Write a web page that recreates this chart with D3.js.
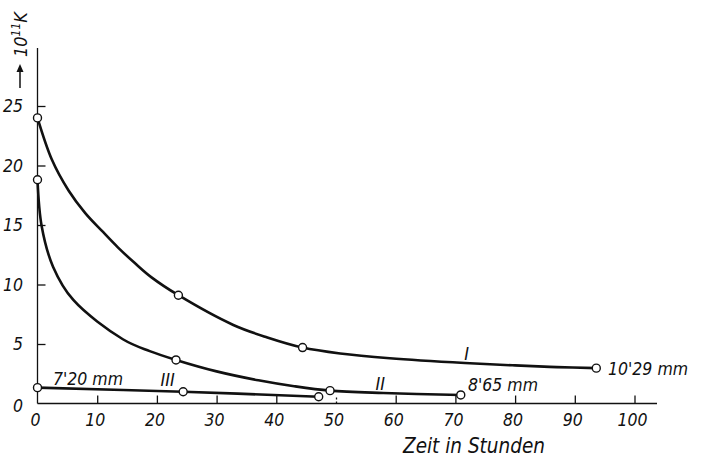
<!DOCTYPE html>
<html>
<head>
<meta charset="utf-8">
<script src="https://cdn.jsdelivr.net/npm/d3@7"></script>
<style>
  html, body { margin: 0; padding: 0; background: #fff; }
  svg text { font-family: "Liberation Sans Narrow", "DejaVu Sans Condensed", "Liberation Sans", sans-serif; font-style: italic; fill: #111; }
</style>
</head>
<body>
<div class="chart"></div>
<script>
'use strict';

const WIDTH = 702;
const HEIGHT = 461;

// x ticks (Zeit in Stunden), y ticks (10^11 K)
const xTicks = [10, 20, 30, 40, 50, 60, 70, 80, 90, 100];
const yTicks = [5, 10, 15, 20, 25];

// measured points (circles)
const pointsI = [[0, 24.0], [23.6, 9.1], [44.4, 4.7], [93.6, 2.97]];
const pointsII = [[0, 18.8], [23.2, 3.66], [49.0, 1.08], [70.9, 0.72]];
const pointsIII = [[0, 1.33], [24.4, 0.99], [47.1, 0.57]];

// drawn curves
const traceI = [[0, 24.0], [2.4, 20.5], [5.2, 17.9], [8.0, 16.0], [10.8, 14.5], [13.5, 13.1],
  [16.3, 11.8], [19.1, 10.6], [23.6, 9.1], [32.8, 6.6], [38.5, 5.55], [44.4, 4.7],
  [50.7, 4.2], [59, 3.8], [71.6, 3.4], [80, 3.2], [87, 3.06], [93.6, 2.97]];
const traceII = [[0, 18.8], [0.7, 14.9], [2.6, 11.5], [6.0, 8.7], [14.3, 5.4], [18.8, 4.4],
  [23.2, 3.66], [30, 2.7], [37, 1.95], [43, 1.45], [49.0, 1.08], [57.9, 0.88], [70.9, 0.72]];
const traceIII = [[0, 1.33], [24.4, 0.99], [47.1, 0.57]];

const curves = [
  {name: 'I', trace: traceI, points: pointsI, size: '10\'29 mm'},
  {name: 'II', trace: traceII, points: pointsII, size: '8\'65 mm'},
  {name: 'III', trace: traceIII, points: pointsIII, size: '7\'20 mm'}
];

const x = d3.scaleLinear().domain([0, 100]).range([37.5, 634.5]);
const y = d3.scaleLinear().domain([0, 25]).range([403.5, 106]);

const svg = d3.select('.chart')
  .append('svg')
    .attr('width', WIDTH)
    .attr('height', HEIGHT);

// axes lines
svg.append('line')
    .attr('x1', x(0)).attr('x2', x(0))
    .attr('y1', y(0)).attr('y2', 48)
    .attr('stroke', '#111').attr('stroke-width', 1.3);
svg.append('line')
    .attr('x1', x(0)).attr('x2', 657)
    .attr('y1', y(0)).attr('y2', y(0))
    .attr('stroke', '#111').attr('stroke-width', 1.3);

const xAxis = svg.append('g')
    .attr('transform', `translate(0,${y(0)})`)
    .call(d3.axisBottom(x).tickValues(xTicks).tickSize(-8).tickFormat(''));
xAxis.select('.domain').remove();
xAxis.selectAll('line').attr('stroke', '#111').attr('stroke-width', 1.3)
    .attr('stroke-dasharray', (d) => d === 50 ? '2,2' : null);

const yAxis = svg.append('g')
    .attr('transform', `translate(${x(0)},0)`)
    .call(d3.axisLeft(y).tickValues(yTicks).tickSize(-8).tickFormat(''));
yAxis.select('.domain').remove();
yAxis.selectAll('line').attr('stroke', '#111').attr('stroke-width', 1.3);

// tick labels
svg.append('g').selectAll('text')
  .data([0].concat(xTicks))
  .enter().append('text')
    .attr('x', (d) => x(d) - 2)
    .attr('y', 426)
    .attr('text-anchor', 'middle')
    .attr('font-size', 17.5)
    .text((d) => d);

svg.append('g').selectAll('text')
  .data([0].concat(yTicks))
  .enter().append('text')
    .attr('x', 23)
    .attr('y', (d) => y(d) + (d === 0 ? 8 : 6))
    .attr('text-anchor', 'end')
    .attr('font-size', 17.5)
    .text((d) => d);

svg.append('text')
    .attr('x', 474)
    .attr('y', 453)
    .attr('text-anchor', 'middle')
    .attr('font-size', 20.5)
    .text('Zeit in Stunden');

// y label: arrow + 10^11 K, rotated
const ylab = svg.append('g').attr('transform', 'translate(27,88) rotate(-90)');
ylab.append('line')
    .attr('x1', 0).attr('x2', 19).attr('y1', -7).attr('y2', -7)
    .attr('stroke', '#111').attr('stroke-width', 1.5);
ylab.append('path')
    .attr('d', 'M24,-7 L16,-10.5 L16,-3.5 Z')
    .attr('fill', '#111');
const yt = ylab.append('text')
    .attr('x', 31)
    .attr('y', 0)
    .attr('font-size', 18);
yt.append('tspan').text('10');
yt.append('tspan').attr('dy', -7).attr('font-size', 12).text('11');
yt.append('tspan').attr('dy', 7).text('K');

// curves
const line = d3.line()
    .x((d) => x(d[0]))
    .y((d) => y(d[1]))
    .curve(d3.curveCatmullRom.alpha(0.5));

svg.append('g').selectAll('path')
  .data(curves)
  .enter().append('path')
    .attr('d', (d) => line(d.trace))
    .attr('fill', 'none')
    .attr('stroke', '#111')
    .attr('stroke-width', 2.6);

svg.append('g').selectAll('circle')
  .data(curves.flatMap((c) => c.points))
  .enter().append('circle')
    .attr('cx', (d) => x(d[0]))
    .attr('cy', (d) => y(d[1]))
    .attr('r', 4)
    .attr('fill', '#fff')
    .attr('stroke', '#111')
    .attr('stroke-width', 1.4);

// curve names (roman numerals)
const nameSpots = {I: [71.9, 354], II: [57.4, 384], III: [21.8, 380]};
svg.append('g').selectAll('text')
  .data(curves)
  .enter().append('text')
    .attr('x', (d) => x(nameSpots[d.name][0]))
    .attr('y', (d) => nameSpots[d.name][1] + 6)
    .attr('text-anchor', 'middle')
    .attr('font-family', '"Liberation Serif", serif')
    .attr('font-size', 18)
    .text((d) => d.name);

// diameter labels
const sizeSpots = {I: [608, 375], II: [468, 391], III: [53, 385]};
svg.append('g').selectAll('text')
  .data(curves)
  .enter().append('text')
    .attr('x', (d) => sizeSpots[d.name][0])
    .attr('y', (d) => sizeSpots[d.name][1])
    .attr('font-size', 17.5)
    .text((d) => d.size);
</script>
</body>
</html>
